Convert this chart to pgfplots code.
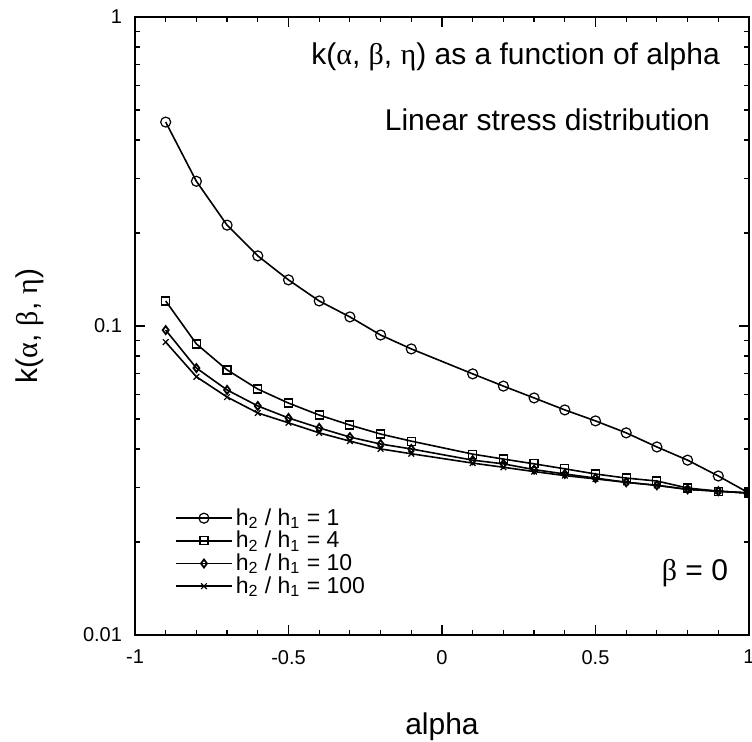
\documentclass[border=0pt]{standalone}
\usepackage{fontspec}
\setmainfont{Liberation Sans}
\newfontfamily\grk{Liberation Serif}
\usepackage{pgfplots}
\pgfplotsset{compat=1.18}

\begin{document}
\begin{tikzpicture}
\begin{axis}[
  name=ax,
  scale only axis,
  width=307pt, height=309pt,
  xmin=-1, xmax=1,
  ymode=log, ymin=0.01, ymax=1,
  xtick={-1,-0.5,0,0.5,1},
  xticklabels={-1,-0.5,0,0.5,1},
  minor x tick num=4,
  ytick={0.01,0.1,1},
  yticklabels={0.01,0.1,1},
  minor ytick={0.02,0.03,0.04,0.05,0.06,0.07,0.08,0.09,0.2,0.3,0.4,0.5,0.6,0.7,0.8,0.9},
  tick align=inside,
  major tick length=5pt, minor tick length=2.5pt,
  tick style={black, line width=0.6pt},
  axis line style={black, line width=0.9pt},
  ticklabel style={font=\fontsize{10}{12}\selectfont},
  xticklabel style={yshift=-4pt},
  yticklabel style={xshift=-3pt},
  xlabel={alpha},
  ylabel={k({\grk α}, {\grk β}, {\grk η})},
  xlabel style={font=\fontsize{15}{18}\selectfont, at={(axis description cs:0.5,-0.149)}, anchor=center},
  ylabel style={font=\fontsize{15}{18}\selectfont, at={(axis description cs:-0.171,0.5)}, anchor=center},
  clip marker paths=true,
  every axis plot/.append style={black, line width=0.8pt, mark options={solid, line width=0.6pt, fill=white}},
  legend image code/.code={
    \draw[mark repeat=2, mark phase=2, #1] plot coordinates {(0pt,0pt) (14pt,0pt) (28pt,0pt)};
  },
  legend style={at={(rel axis cs:0.055,0.134)}, anchor=west, draw=none, fill=none,
    font=\fontsize{11.5}{12}\selectfont, row sep=-1.5pt, nodes={inner sep=1.5pt}},
  legend cell align=left,
]
\addplot[mark=o, mark size=2.5pt] coordinates {
  (-0.9,0.457) (-0.8,0.294) (-0.7,0.212) (-0.6,0.1686) (-0.5,0.141)
  (-0.4,0.1205) (-0.3,0.107) (-0.2,0.0935) (-0.1,0.0843)
  (0.1,0.0700) (0.2,0.0639) (0.3,0.0585) (0.4,0.0535) (0.5,0.0493)
  (0.6,0.0451) (0.7,0.0406) (0.8,0.0368) (0.9,0.0327) (1.0,0.0288)
};
\addlegendentry{h\textsubscript{2} / h\textsubscript{1} = 1}
\addplot[mark=square, mark size=2pt] coordinates {
  (-0.9,0.1205) (-0.8,0.0875) (-0.7,0.0721) (-0.6,0.0625) (-0.5,0.0563)
  (-0.4,0.0515) (-0.3,0.0478) (-0.2,0.0447) (-0.1,0.0424)
  (0.1,0.0385) (0.2,0.0371) (0.3,0.0358) (0.4,0.0345) (0.5,0.0332)
  (0.6,0.0322) (0.7,0.0315) (0.8,0.0299) (0.9,0.0292) (1.0,0.0288)
};
\addlegendentry{h\textsubscript{2} / h\textsubscript{1} = 4}
\addplot[mark=diamond, mark size=2pt, mark options={line width=0.9pt}] coordinates {
  (-0.9,0.097) (-0.8,0.0731) (-0.7,0.0621) (-0.6,0.0551) (-0.5,0.0504)
  (-0.4,0.0468) (-0.3,0.0437) (-0.2,0.0415) (-0.1,0.0400)
  (0.1,0.0368) (0.2,0.0358) (0.3,0.0343) (0.4,0.0332) (0.5,0.0322)
  (0.6,0.0312) (0.7,0.0305) (0.8,0.0296) (0.9,0.0292) (1.0,0.0288)
};
\addlegendentry{h\textsubscript{2} / h\textsubscript{1} = 10}
\addplot[mark=x, mark size=2pt] coordinates {
  (-0.9,0.0887) (-0.8,0.0685) (-0.7,0.0589) (-0.6,0.0523) (-0.5,0.0486)
  (-0.4,0.0451) (-0.3,0.0424) (-0.2,0.0400) (-0.1,0.0386)
  (0.1,0.0360) (0.2,0.0349) (0.3,0.0338) (0.4,0.0328) (0.5,0.0320)
  (0.6,0.0312) (0.7,0.0305) (0.8,0.0296) (0.9,0.0292) (1.0,0.0288)
};
\addlegendentry{h\textsubscript{2} / h\textsubscript{1} = 100}
\node[anchor=east, font=\fontsize{15}{18}\selectfont] at (rel axis cs:0.964,0.935)
  {k({\grk α}, {\grk β}, {\grk η}) as a function of alpha};
\node[anchor=east, font=\fontsize{15}{18}\selectfont] at (rel axis cs:0.948,0.833)
  {Linear stress distribution};
\node[font=\fontsize{15}{18}\selectfont] at (rel axis cs:0.912,0.100)
  {{\grk β} = 0};
\end{axis}
\pgfresetboundingbox
\path (ax.south west) ++(-67.5pt,-53.5pt) rectangle ++(376pt,371pt);
\end{tikzpicture}
\end{document}
